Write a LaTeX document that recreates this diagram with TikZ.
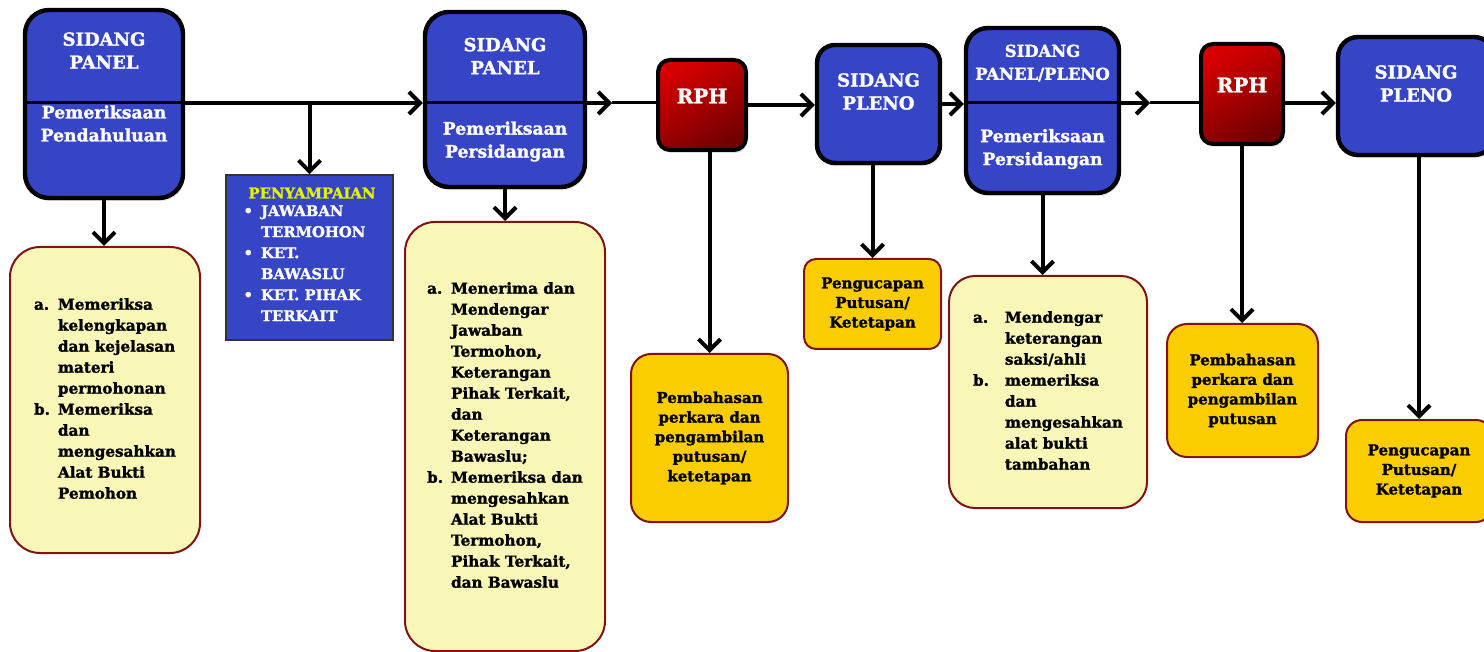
\documentclass[tikz,border=0pt]{standalone}
\usepackage{fontspec}
\setmainfont{DejaVu Serif}[BoldFeatures={FakeBold=1.5}]
\usepackage{tikz}
\usetikzlibrary{arrows.meta,shadows}

\definecolor{panelblue}{RGB}{53,69,197}
\definecolor{rphlight}{RGB}{215,0,0}
\definecolor{rphdark}{RGB}{115,0,0}
\definecolor{boxyellow}{RGB}{248,247,184}
\definecolor{boxgold}{RGB}{249,205,0}
\definecolor{boxborder}{RGB}{128,20,20}
\definecolor{titleyellow}{RGB}{226,242,0}

\begin{document}
\begin{tikzpicture}[x=0.5pt, y=-0.5pt, >={Straight Barb[length=5.5pt,width=11pt]},
  sidang/.style={draw, line width=2.2pt, fill=panelblue, rounded corners=12pt,
    drop shadow={opacity=0.25, shadow xshift=0.8pt, shadow yshift=-1.5pt}},
  rph/.style={draw, line width=2pt, rounded corners=6pt, top color=rphlight, bottom color=rphdark,
    shading angle=30, drop shadow={opacity=0.25, shadow xshift=0.8pt, shadow yshift=-1.5pt}},
  judul/.style={text=white, align=center, font=\fontsize{9}{11.5}\selectfont\bfseries},
  info/.style={draw=black!80, line width=0.8pt, fill=panelblue, text=white, align=left,
    font=\fontsize{7.4}{10.5}\selectfont\bfseries},
  ket/.style={draw=boxborder, line width=1pt, fill=boxyellow, rounded corners=15pt,
    font=\fontsize{7.6}{10.5}\selectfont\bfseries},
  putusan/.style={draw=boxborder, line width=1pt, fill=boxgold, rounded corners=10pt, align=center,
    font=\fontsize{7.5}{9.8}\selectfont\bfseries},
  alur/.style={line width=2pt}]
 \useasboundingbox (0,0) rectangle (1484,652);
 \clip (0,0) rectangle (1484,652);
 \coordinate (mainline) at (0,103);

 \node[sidang, minimum width=79pt, minimum height=94pt] (panel1) at (104,104) {};
 \node[sidang, minimum width=80pt, minimum height=87.5pt] (panel2) at (505,99.5) {};
 \node[rph, minimum width=44pt, minimum height=45pt] (rph1) at (702,105) {};
 \node[sidang, rounded corners=9pt, minimum width=61.5pt, minimum height=59pt] (pleno1) at (878.5,104) {};
 \node[sidang, rounded corners=11pt, minimum width=76.5pt, minimum height=82.5pt] (panel3) at (1042.5,110.5) {};
 \node[rph, minimum width=41pt, minimum height=50pt] (rph2) at (1242,94) {};
 \node[sidang, rounded corners=10pt, minimum width=78pt, minimum height=59pt] (pleno2) at (1416,96) {};

 \draw[line width=1.5pt] (panel1.west |- mainline) -- (panel1.east |- mainline);
 \draw[line width=1.5pt] (panel2.west |- mainline) -- (panel2.east |- mainline);
 \draw[line width=1.5pt] (panel3.west |- mainline) -- (panel3.east |- mainline);

 \node[judul] (panel1-a) at (104,50.5) {SIDANG\\PANEL};
 \node[judul, font=\fontsize{8.6}{11.5}\selectfont\bfseries] (panel1-b) at (104,123.5) {Pemeriksaan\\Pendahuluan};
 \node[judul] (panel2-a) at (505,56) {SIDANG\\PANEL};
 \node[judul, font=\fontsize{8.6}{11.5}\selectfont\bfseries] (panel2-b) at (505,141.5) {Pemeriksaan\\Persidangan};
 \node[judul, font=\fontsize{10}{12}\selectfont\bfseries] (rph1-a) at (702,96) {RPH};
 \node[judul] (pleno1-a) at (878.5,91.5) {SIDANG\\PLENO};
 \node[judul, font=\fontsize{8.2}{11.5}\selectfont\bfseries] (panel3-a) at (1042.5,63) {SIDANG\\PANEL/PLENO};
 \node[judul, font=\fontsize{8.6}{11.5}\selectfont\bfseries] (panel3-b) at (1042.5,149) {Pemeriksaan\\Persidangan};
 \node[judul, font=\fontsize{10}{12}\selectfont\bfseries] (rph2-a) at (1242,85) {RPH};
 \node[judul] (pleno2-a) at (1416,83.5) {SIDANG\\PLENO};

 \node[info, minimum width=83.5pt, minimum height=82.5pt] (penyampaian) at (309.5,257.5)
  {\hspace*{2.5pt}\textcolor{titleyellow}{PENYAMPAIAN}\\[0.5pt]
   \begin{tabular}{@{}l@{\hspace{4pt}}l@{}}
    \textbullet & JAWABAN\\ & TERMOHON\\
    \textbullet & KET.\\ & BAWASLU\\
    \textbullet & KET. PIHAK\\ & TERKAIT
   \end{tabular}};

 \node[ket, minimum width=95pt, minimum height=153pt] (ketA) at (105,400)
  {\begin{tabular}{@{}l@{\hspace{4pt}}l@{}}
    a. & Memeriksa\\ & kelengkapan\\ & dan kejelasan\\ & materi\\ & permohonan\\
    b. & Memeriksa\\ & dan\\ & mengesahkan\\ & Alat Bukti\\ & Pemohon
   \end{tabular}};
 \node[ket, minimum width=100pt, minimum height=214.5pt] (ketB) at (505,436.5)
  {\begin{tabular}{@{}l@{\hspace{4pt}}l@{}}
    a. & Menerima dan\\ & Mendengar\\ & Jawaban\\ & Termohon,\\ & Keterangan\\ & Pihak Terkait,\\ & dan\\ & Keterangan\\ & Bawaslu;\\
    b. & Memeriksa dan\\ & mengesahkan\\ & Alat Bukti\\ & Termohon,\\ & Pihak Terkait,\\ & dan Bawaslu
   \end{tabular}};
 \node[putusan, minimum width=78.5pt, minimum height=84pt] (ketC) at (709.5,438)
  {Pembahasan\\perkara dan\\pengambilan\\putusan/\\ketetapan};
 \node[putusan, rounded corners=6pt, minimum width=68.5pt, minimum height=45pt] (ketD) at (872.5,304)
  {Pengucapan\\Putusan/\\Ketetapan};
 \node[ket, rounded corners=13pt, minimum width=99pt, minimum height=116pt] (ketE) at (1048,392)
  {\begin{tabular}{@{}l@{\hspace{8pt}}l@{}}
    a. & Mendengar\\ & keterangan\\ & saksi/ahli\\
    b. & memeriksa\\ & dan\\ & mengesahkan\\ & alat bukti\\ & tambahan
   \end{tabular}};
 \node[putusan, minimum width=75.5pt, minimum height=66.5pt] (ketF) at (1242.5,390.5)
  {Pembahasan\\perkara dan\\pengambilan\\putusan};
 \node[putusan, rounded corners=8pt, minimum width=73pt, minimum height=51pt] (ketG) at (1419,471)
  {Pengucapan\\Putusan/\\Ketetapan};

 \coordinate (mid1) at (612,103);
 \coordinate (mid2) at (1150,103);
 \path[->, alur]
  (panel1.east |- mainline) edge (panel2.west |- mainline)
  (penyampaian.north |- mainline) edge (penyampaian.north)
  (panel2.east |- mainline) edge (mid1)
  (rph1.east) edge (rph1.east -| pleno1.west)
  (pleno1.east) edge (pleno1.east -| panel3.west)
  (panel3.east |- mainline) edge (mid2)
  (rph2.east |- mainline) edge (pleno2.west |- mainline)
  (panel1.south) edge (panel1.south |- ketA.north)
  (panel2.south) edge (panel2.south |- ketB.north)
  (ketC.north |- rph1.south) edge (ketC.north)
  (ketD.north |- pleno1.south) edge (ketD.north)
  (panel3.south) edge (panel3.south |- ketE.north)
  (rph2.south) edge (rph2.south |- ketF.north)
  (ketG.north |- pleno2.south) edge (ketG.north);
 \draw[line width=1.5pt] (mid1) -- (rph1.west |- mainline);
 \draw[line width=1.5pt] (mid2) -- (rph2.west |- mainline);
\end{tikzpicture}
\end{document}
